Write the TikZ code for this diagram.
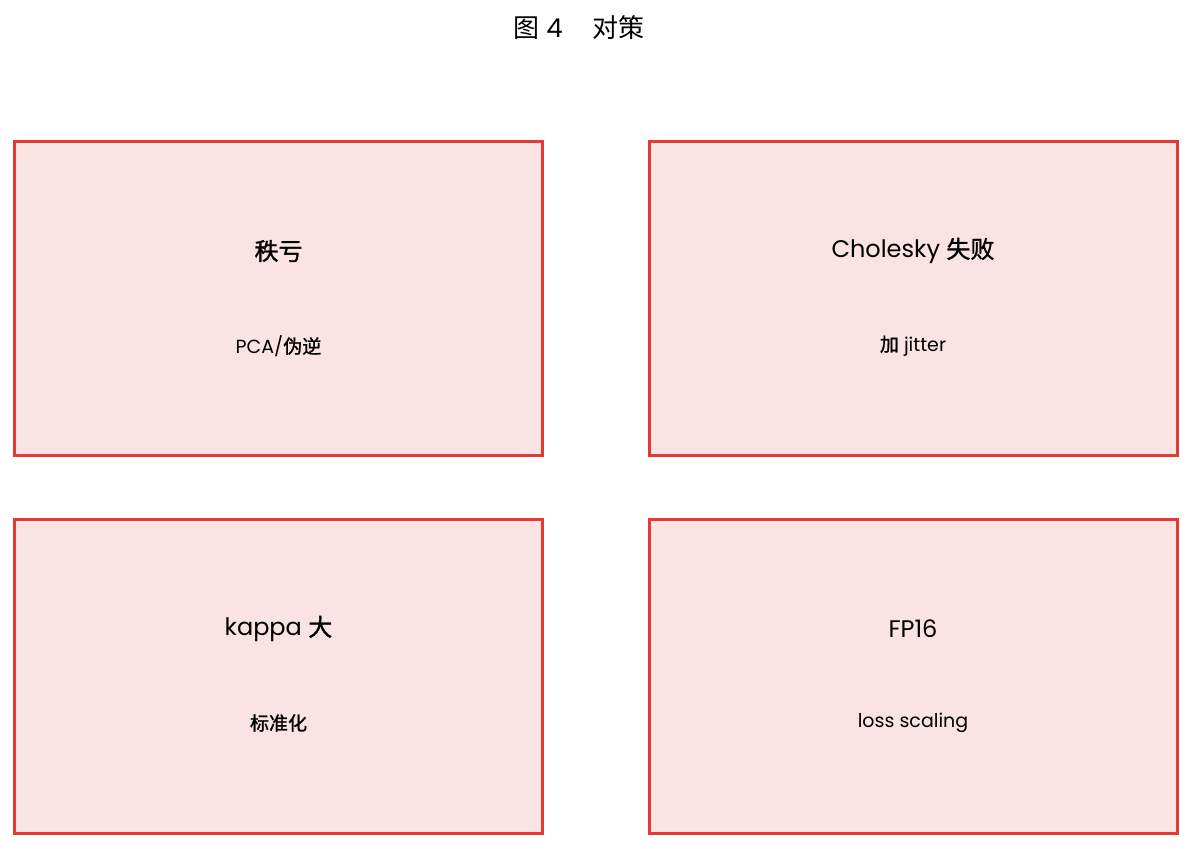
\documentclass[tikz,border=0pt]{standalone}
\usepackage{fontspec}
\setmainfont{Poppins}
\newfontfamily\cjk[FakeBold=1.2]{Noto Sans CJK SC}
\newfontfamily\cjktitle{Noto Sans CJK SC}
\definecolor{boxred}{HTML}{E53935}
\definecolor{boxfill}{HTML}{F9E3E3}
\begin{document}
\begin{tikzpicture}[x=1pt,y=-1pt,
  card/.style={draw=boxred,fill=boxfill,line width=3pt,minimum width=528pt,minimum height=314pt,inner sep=0pt},
  head/.style={font=\fontsize{24}{28}\selectfont},
  sub/.style={font=\fontsize{19}{23}\selectfont},
  ttl/.style={font=\fontsize{26}{30}\selectfont}]
\useasboundingbox (0,0) rectangle (1192,849);
\node[ttl] (title) at (579,28) {{\cjktitle 图} 4\hspace{30pt}{\cjktitle 对策}};
\node[card] (b1) at (278.5,298.5) {};
\node[card] (b2) at (913,298.5) {};
\node[card] (b3) at (278.5,676) {};
\node[card] (b4) at (913,676) {};
\node[head] (h1) at (278.5,251) {\cjk 秩亏};
\node[sub] (s1) at (278.5,346) {PCA/{\cjk 伪逆}};
\node[head] (h2) at (913,251) {Cholesky {\cjk 失败}};
\node[sub] (s2) at (913,346) {{\cjk 加} jitter};
\node[head] (h3) at (278.5,629) {kappa {\cjk 大}};
\node[sub] (s3) at (278.5,723) {\cjk 标准化};
\node[head] (h4) at (913,629) {FP16};
\node[sub] (s4) at (913,723) {loss scaling};
\end{tikzpicture}
\end{document}
